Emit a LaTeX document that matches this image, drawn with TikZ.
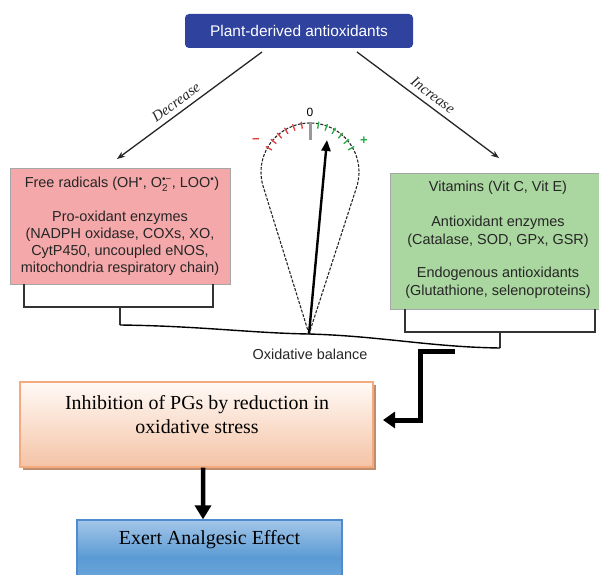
\documentclass[tikz,border=0pt]{standalone}
\usepackage{fontspec}
\setmainfont{Liberation Serif}
\newfontfamily\arialf{Liberation Sans}
\usetikzlibrary{arrows.meta,calc}
\definecolor{topblue}{RGB}{46,66,158}
\definecolor{redfill}{RGB}{244,168,170}
\definecolor{greenfill}{RGB}{170,214,160}
\definecolor{tickr}{RGB}{226,60,60}
\definecolor{tickg}{RGB}{40,170,70}
\definecolor{peachtop}{RGB}{255,250,246}
\definecolor{peachbot}{RGB}{244,195,165}
\definecolor{peachborder}{RGB}{244,170,125}
\definecolor{peachshadow}{RGB}{190,140,110}
\definecolor{bluetop}{RGB}{163,198,233}
\definecolor{bluemid}{RGB}{90,154,212}
\definecolor{bluebot}{RGB}{120,175,225}
\definecolor{blueborder}{RGB}{80,140,205}
\newcommand\sbsp[2]{\ensuremath{_{\mbox{\fontsize{10}{10}\selectfont #1}}^{\mbox{\fontsize{10}{10}\selectfont #2}}}}
\newcommand\supb{\ensuremath{^{\mbox{\fontsize{10}{10}\selectfont •}}}}
\begin{document}
\begin{tikzpicture}[x=1bp,y=-1bp,
  sidetext/.style={font=\arialf\fontsize{14.5}{17}\selectfont, text=black!85, align=center, inner sep=0pt},
  serifbig/.style={font=\fontsize{20}{24}\selectfont, align=center, inner sep=0pt},
  thinarrow/.style={-{Stealth[length=8bp,width=6bp]}, line width=1.3bp, black!85},
  bracketline/.style={draw=black!80, line width=1.2bp},
  tickred/.style={draw=tickr, line width=1.3bp},
  tickgreen/.style={draw=tickg, line width=1.3bp},
  gaugedash/.style={draw=black!85, line width=1.1bp, dash pattern=on 3bp off 1.5bp},
  needle/.style={-{Triangle[length=11bp,width=9bp]}, line width=2.4bp, black},
  fatarrow/.style={-{Triangle[length=12bp,width=16bp]}, line width=5bp, black, line join=miter},
  labelit/.style={font=\itshape\fontsize{15}{15}\selectfont, text=black!85, inner sep=0pt}
]
\useasboundingbox (0,0) rectangle (599,575);
\clip (0,0) rectangle (599,575);

% top box
\node[fill=topblue, rounded corners=4bp, minimum width=228bp, minimum height=34bp,
      text=white, font=\arialf\fontsize{15.5}{16}\selectfont, inner sep=0pt] (top) at (299,31) {Plant-derived antioxidants};

% decrease / increase arrows
\coordinate (d0) at (262,52);
\coordinate (d1) at (117,159);
\coordinate (i0) at (357,52);
\coordinate (i1) at (499,158);
\draw[thinarrow] (d0) -- (d1);
\draw[thinarrow] (i0) -- (i1);
\node[labelit, rotate=36.5] (declabel) at (176,102) {Decrease};
\node[labelit, rotate=-37] (inclabel) at (433,95) {Increase};

% red box
\node[fill=redfill, draw=black!35, line width=0.6bp, minimum width=220bp, minimum height=116bp, inner sep=0pt] (red) at (120,226) {};
\node[sidetext] (redl1) at (122,184) {Free radicals (OH\supb, O\sbsp{2}{•−}, LOO\supb)};
\node[sidetext] (redl2) at (120,243.5) {Pro-oxidant enzymes\\(NADPH oxidase, COXs, XO,\\CytP450, uncoupled eNOS,\\mitochondria respiratory chain)};

% green box
\node[fill=greenfill, draw=black!35, line width=0.6bp, minimum width=213bp, minimum height=136bp, inner sep=0pt] (green) at (496.5,241) {};
\node[sidetext] (grl1) at (498,188) {Vitamins (Vit C, Vit E)};
\node[sidetext, font=\arialf\fontsize{14.5}{18}\selectfont] (grl2) at (498,232) {Antioxidant enzymes\\(Catalase, SOD, GPx, GSR)};
\node[sidetext, font=\arialf\fontsize{14.5}{18}\selectfont] (grl3) at (498,283) {Endogenous antioxidants\\(Glutathione, selenoproteins)};

% brackets
\draw[bracketline] (24,284) -- (24,307) -- (213,307) -- (213,284);
\draw[bracketline] (405,309) -- (405,332) -- (595,332) -- (595,309);
\coordinate (lstem) at (120,325);
\coordinate (rstem) at (500,348);
\draw[bracketline] (120,307) -- (lstem);
\draw[bracketline] (500,332) -- (rstem);

% gauge
\coordinate (pivot) at (309,334);
\coordinate (needletip) at (327,140);
\draw[gaugedash] (pivot) -- plot[domain=197.6:-17.6, samples=60] ({310+49*cos(\x)},{172-49*sin(\x)}) -- cycle;
\foreach \a in {150,140,...,100}
  \draw[tickred] ({310+51*cos(\a)},{172-51*sin(\a)}) -- ({310+44*cos(\a)},{172-44*sin(\a)});
\foreach \a in {80,70,...,30}
  \draw[tickgreen] ({310+51*cos(\a)},{172-51*sin(\a)}) -- ({310+44*cos(\a)},{172-44*sin(\a)});
\draw[line width=3bp, black!40] (310,122) -- (310,140);
\node[font=\arialf\fontsize{12}{12}\selectfont, inner sep=0pt] (zero) at (310,112) {0};
\node[font=\arialf\bfseries\fontsize{13}{13}\selectfont, text=tickr, inner sep=0pt] (minus) at (256,141) {−};
\node[font=\arialf\bfseries\fontsize{13}{13}\selectfont, text=tickg, inner sep=0pt] (plus) at (364,141) {+};

% beam
\draw[line width=1.4bp, black] (lstem) .. controls (200,326) and (250,333) .. (pivot) .. controls (380,336) and (430,347) .. (rstem);
\draw[needle] (pivot) -- (needletip);
\node[sidetext] (oxbal) at (310,354) {Oxidative balance};

% inhibition box
\fill[peachshadow] (23,385) rectangle (376,470);
\node[draw=peachborder, line width=1.3bp, top color=peachtop, bottom color=peachbot,
      minimum width=353bp, minimum height=85bp, inner sep=0pt] (inhib) at (196.5,424.5) {};
\node[serifbig] (inhiblabel) at (197,415) {Inhibition of PGs by reduction in\\oxidative stress};

% elbow arrow
\coordinate (e0) at (455,351);
\coordinate (e1) at (420,351);
\coordinate (e2) at (420,420);
\coordinate (elbowtip) at (383,420);
\draw[fatarrow] (e0) -- (e1) -- (e2) -- (elbowtip);

% exert box
\node[draw=blueborder, line width=1.3bp, top color=bluetop, bottom color=bluebot, middle color=bluemid,
      minimum width=265bp, minimum height=76bp, inner sep=0pt] (exert) at (209.5,558) {};
\node[serifbig] (exertlabel) at (209.5,540) {Exert Analgesic Effect};

% down arrow
\draw[-{Triangle[length=14bp,width=16bp]}, line width=4.5bp] ([xshift=6.5bp]inhib.south) -- ([xshift=-6.5bp]exert.north);
\end{tikzpicture}
\end{document}
